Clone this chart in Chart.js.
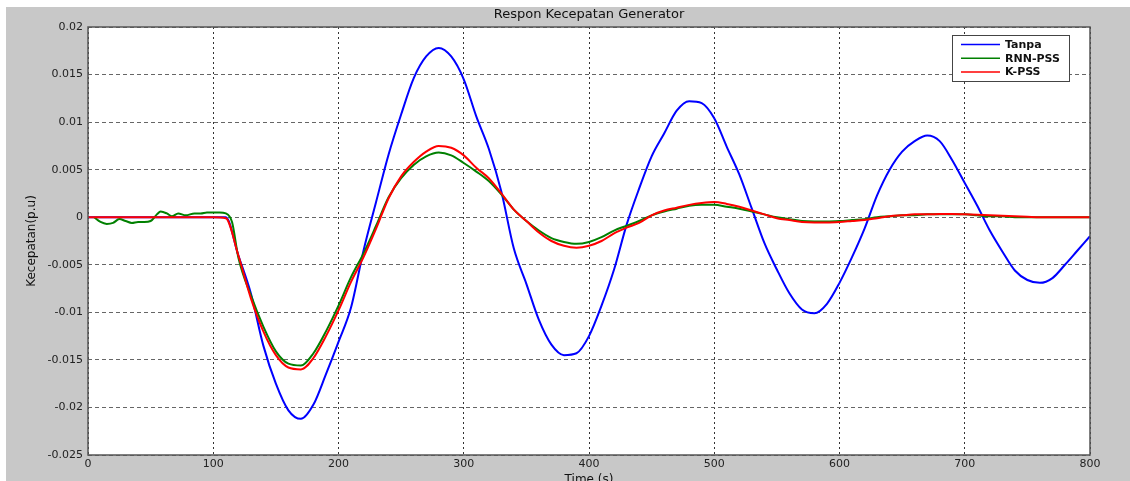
<!DOCTYPE html>
<html>
<head>
<meta charset="utf-8">
<script src="https://cdn.jsdelivr.net/npm/chart.js@4.4.1/dist/chart.umd.min.js"></script>
<style>
  body { margin: 0; background: #ffffff; }
  #wrap { position: absolute; left: 6px; top: 7px; width: 1124px; height: 474px; background: #c8c8c8; }
</style>
</head>
<body>
<div id="wrap"><canvas id="respon" width="1124" height="474"></canvas></div>
<script>
// time axis (s) shared by Tanpa and K-PSS
var time = [0, 10, 20, 30, 40, 50, 60, 70, 80, 90, 100, 110, 120, 130, 140, 150, 160, 170, 180, 190,
    200, 210, 220, 230, 240, 250, 260, 270, 280, 290, 300, 310, 320, 330, 340, 350, 360, 370, 380, 390,
    400, 410, 420, 430, 440, 450, 460, 470, 480, 490, 500, 510, 520, 530, 540, 550, 560, 570, 580, 590,
    600, 610, 620, 630, 640, 650, 660, 670, 680, 690, 700, 710, 720, 730, 740, 750, 760, 770, 780, 790, 800]

var tanpa = [0, 0, 0, 0, 0, 0, 0, 0, 0, 0, 0, 0, -0.004, -0.008, -0.0135, -0.0175, -0.0203, -0.0212, -0.0197, -0.0165,
    -0.0131, -0.0095, -0.0035, 0.0016, 0.0066, 0.0108, 0.0146, 0.0169, 0.0178, 0.0169, 0.0145, 0.0106, 0.0072, 0.0027, -0.0033, -0.007, -0.0108, -0.0134, -0.0145, -0.0143,
    -0.0125, -0.0093, -0.0055, -0.0008, 0.003, 0.0064, 0.0088, 0.0112, 0.0122, 0.012, 0.0104, 0.0074, 0.0045, 0.0009, -0.0027, -0.0055, -0.008, -0.0097, -0.0101, -0.0091,
    -0.0069, -0.0042, -0.0012, 0.0023, 0.005, 0.0069, 0.008, 0.0086, 0.008, 0.006, 0.0036, 0.0012, -0.0014, -0.0036, -0.0056, -0.0066, -0.0069, -0.0064, -0.005, -0.0035, -0.002]

var kpss = [0, 0, 0, 0, 0, 0, 0, 0, 0, 0, 0, -0.0001, -0.004, -0.0085, -0.012, -0.0145, -0.0158, -0.016, -0.0148, -0.0125,
    -0.0098, -0.0068, -0.0042, -0.0012, 0.002, 0.0043, 0.0058, 0.0069, 0.0075, 0.0073, 0.0065, 0.0052, 0.0041, 0.0025, 0.0008, -0.0004, -0.0016, -0.0025, -0.003, -0.0032,
    -0.003, -0.0025, -0.0017, -0.0011, -0.0006, 0.0002, 0.0007, 0.001, 0.0013, 0.0015, 0.0016, 0.0014, 0.0011, 0.0007, 0.0003, -0.0001, -0.0003, -0.0005, -0.00055, -0.00055,
    -0.0005, -0.0004, -0.0003, -0.0001, 0.0001, 0.0002, 0.0003, 0.0003, 0.00035, 0.00035, 0.0003, 0.00025, 0.0002, 0.00015, 0.0001, 0.00005, 0, 0, 0, 0, 0]

// RNN-PSS has its own time points (small wiggles before the fault)
var rnnTime = [5, 10, 15, 20, 25, 30, 35, 40, 45, 50, 55, 58, 63, 67, 72, 78, 85, 90, 95, 100, 105, 110, 115,
    120, 130, 140, 150, 160, 170, 180, 190, 200, 210, 220, 230, 240, 250, 260, 270, 280, 290, 300,
    310, 320, 330, 340, 350, 360, 370, 380, 390, 400, 410, 420, 430, 440, 450, 460, 470, 480, 490, 500,
    510, 520, 530, 540, 550, 560, 570, 580, 590, 600, 610, 620, 630, 640, 650, 660, 670, 680, 690, 700,
    710, 720, 730, 740, 750, 760, 770, 780, 790, 800]

var rnnPss = [0, -0.0005, -0.0007, -0.0006, -0.0002, -0.0004, -0.0006, -0.0005, -0.0005, -0.0004, 0.0003, 0.0006, 0.0004, 0.0001, 0.0004, 0.0002, 0.0004, 0.0004, 0.0005, 0.0005, 0.0005, 0.0004, -0.0005,
    -0.0042, -0.0082, -0.0115, -0.0141, -0.0154, -0.0156, -0.0143, -0.012, -0.0093, -0.0063, -0.0038, -0.0009, 0.0021, 0.0041, 0.0055, 0.0064, 0.0068, 0.0065, 0.0057,
    0.0048, 0.0038, 0.0024, 0.0008, -0.0004, -0.0014, -0.0022, -0.0026, -0.0028, -0.0026, -0.0021, -0.0014, -0.0009, -0.0004, 0.0002, 0.0006, 0.0009, 0.0012, 0.0013, 0.0013,
    0.0011, 0.0009, 0.0006, 0.0003, 0, -0.0002, -0.0004, -0.00045, -0.00045, -0.0004, -0.0003, -0.0002, 0, 0.0001, 0.0002, 0.0002, 0.0003, 0.0003, 0.0003, 0.0003,
    0.0002, 0.0001, 0.0001, 0, 0, 0, 0, 0, 0, 0]

var seriesNames = ['Tanpa', 'RNN-PSS', 'K-PSS']
var seriesColors = ['#0000ff', '#008000', '#ff0000']
var chartTitle = 'Respon Kecepatan Generator'

function toPoints(xs, ys) {
    var pts = []
    for (var i = 0; i < xs.length; i++) {
        pts.push({ x: xs[i], y: ys[i] })
    }
    return pts
}

var fontName = "'DejaVu Sans', Arial, sans-serif"

// white plot area, frame, title over the plot and the legend box inside the plot
var plotFrame = {
    id: 'plotFrame',
    beforeDraw: function (chart) {
        var a = chart.chartArea
        var ctx = chart.ctx
        ctx.save()
        ctx.fillStyle = '#ffffff'
        ctx.fillRect(a.left, a.top, a.right - a.left, a.bottom - a.top)
        ctx.restore()
    },
    afterDraw: function (chart) {
        var a = chart.chartArea
        var ctx = chart.ctx
        ctx.save()
        ctx.strokeStyle = '#555555'
        ctx.lineWidth = 1.5
        ctx.strokeRect(a.left, a.top, a.right - a.left, a.bottom - a.top)

        ctx.fillStyle = '#111111'
        ctx.font = '13px ' + fontName
        ctx.textAlign = 'center'
        ctx.textBaseline = 'middle'
        ctx.fillText(chartTitle, (a.left + a.right) / 2, 7.5)

        // legend
        var bw = 117, bh = 46
        var bx = a.right - 21 - bw, by = a.top + 8
        ctx.fillStyle = '#ffffff'
        ctx.fillRect(bx, by, bw, bh)
        ctx.strokeStyle = '#444444'
        ctx.lineWidth = 1
        ctx.strokeRect(bx + 0.5, by + 0.5, bw, bh)
        ctx.font = 'bold 11px ' + fontName
        ctx.textBaseline = 'middle'
        ctx.textAlign = 'left'
        for (var i = 0; i < seriesNames.length; i++) {
            var ry = by + 9.5 + i * 13.8
            ctx.strokeStyle = seriesColors[i]
            ctx.lineWidth = 1.5
            ctx.beginPath()
            ctx.moveTo(bx + 9, ry)
            ctx.lineTo(bx + 48, ry)
            ctx.stroke()
            ctx.fillStyle = '#111111'
            ctx.fillText(seriesNames[i], bx + 53, ry + 0.5)
        }
        ctx.restore()
    }
}

var config = {
    type: 'line',
    data: {
        datasets: [
            { label: seriesNames[0], data: toPoints(time, tanpa), borderColor: seriesColors[0], order: 2 },
            { label: seriesNames[1], data: toPoints(rnnTime, rnnPss), borderColor: seriesColors[1], order: 1 },
            { label: seriesNames[2], data: toPoints(time, kpss), borderColor: seriesColors[2], order: 0 }
        ]
    },
    options: {
        responsive: false,
        animation: false,
        parsing: false,
        layout: { padding: { left: 0, right: 40, top: 20, bottom: 0 } },
        elements: {
            point: { radius: 0 },
            line: { borderWidth: 2, tension: 0.4, cubicInterpolationMode: 'monotone' }
        },
        plugins: {
            legend: { display: false },
            tooltip: { enabled: false },
            title: { display: false }
        },
        scales: {
            x: {
                type: 'linear',
                min: 0,
                max: 800,
                ticks: { stepSize: 100, color: '#222222', padding: 3, maxRotation: 0,
                    font: { family: fontName, size: 11 } },
                grid: { color: '#333333', lineWidth: 1, drawTicks: false },
                border: { display: false, dash: [2, 3] },
                title: { display: true, text: 'Time (s)', color: '#111111',
                    font: { family: fontName, size: 12, lineHeight: 1.2 }, padding: { top: 0, bottom: -6 } },
                afterFit: function (scale) { scale.height = 26 }
            },
            y: {
                min: -0.025,
                max: 0.02,
                ticks: { stepSize: 0.005, color: '#222222', padding: 5,
                    font: { family: fontName, size: 11 },
                    callback: function (v) { return String(parseFloat(v.toFixed(3))) } },
                grid: { color: '#666666', lineWidth: 1, drawTicks: false },
                border: { display: false, dash: [4, 3] },
                title: { display: true, text: 'Kecepatan(p.u)', color: '#111111',
                    font: { family: fontName, size: 12, lineHeight: 1.2 }, padding: { top: 19, bottom: 0 } },
                afterFit: function (scale) { scale.width = 82 }
            }
        }
    },
    plugins: [plotFrame]
}

new Chart(document.getElementById('respon'), config)
</script>
</body>
</html>
